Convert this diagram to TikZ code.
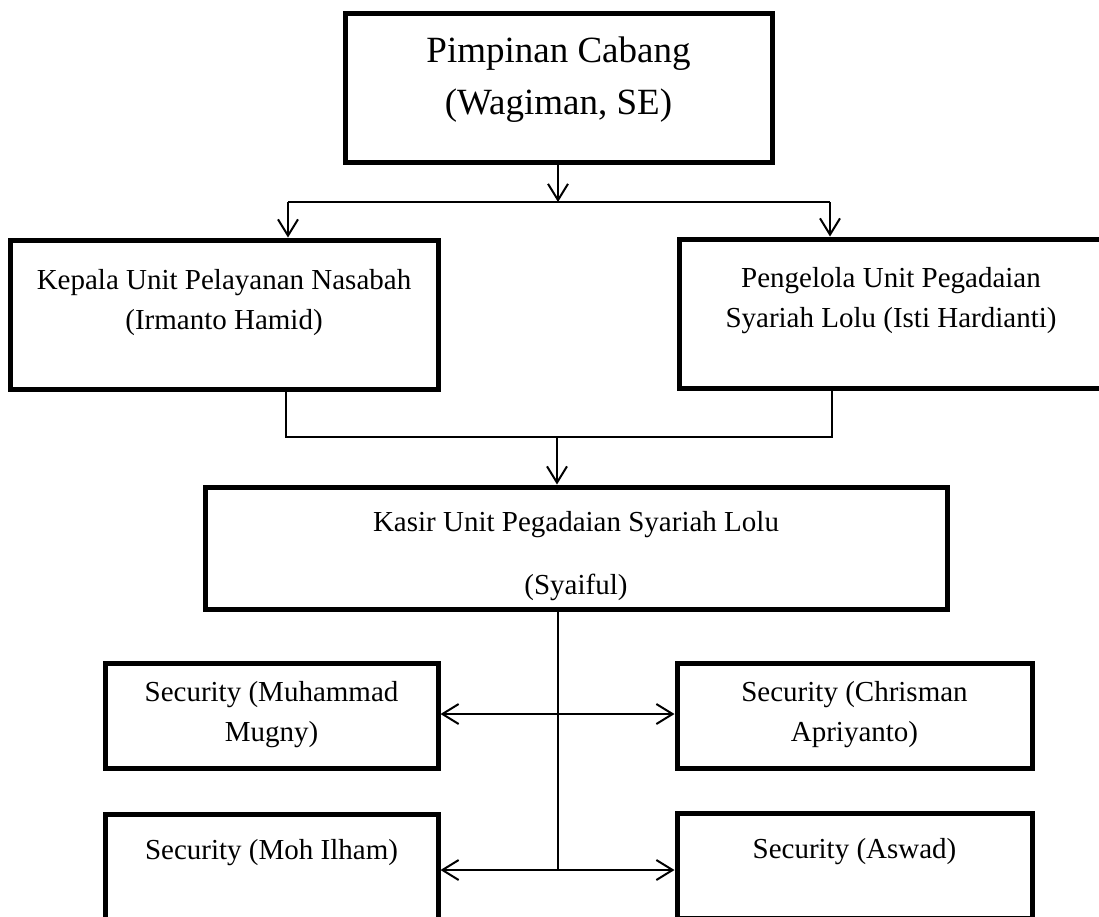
\documentclass[tikz,border=0pt]{standalone}
\usepackage{fontspec}
\setmainfont{Liberation Serif}
\usetikzlibrary{arrows.meta}
\newcommand{\px}{0.4pt}

\begin{document}
\begin{tikzpicture}[>={Straight Barb[length=6.5pt,width=8pt]}, line width=0.8pt, x=0.4pt, y=-0.4pt]
\tikzset{
  box/.style={draw, line width=2pt, rectangle, inner sep=0pt},
  txt/.style={align=center, inner sep=0pt, font=\fontsize{11.6}{16}\selectfont},
}
\useasboundingbox (0,0) rectangle (1099,916);

% top
\node[box, minimum width=427*\px, minimum height=149*\px] (pimpinan) at (558.5,87.5) {};
\node[txt, font=\fontsize{14.8}{20.8}\selectfont] (pimpinan-t) at (558.5,80) {Pimpinan Cabang\\(Wagiman, SE)};

% second row
\node[box, minimum width=428*\px, minimum height=149*\px] (kepala) at (224,314.5) {};
\node[txt] (kepala-t) at (224,303) {Kepala Unit Pelayanan Nasabah\\(Irmanto Hamid)};
\node[box, minimum width=424*\px, minimum height=149*\px] (pengelola) at (891,313.5) {};
\node[txt] (pengelola-t) at (891,301) {Pengelola Unit Pegadaian\\Syariah Lolu (Isti Hardianti)};

% kasir
\node[box, minimum width=742*\px, minimum height=122*\px] (kasir) at (576,548) {};
\node[txt] (kasir-t) at (576,556.5) {Kasir Unit Pegadaian Syariah Lolu\\[9.2pt](Syaiful)};

% security
\node[box, minimum width=333*\px, minimum height=105*\px] (sec1) at (271.5,715.5) {};
\node[txt] (sec1-t) at (271.5,715) {Security (Muhammad\\Mugny)};
\node[box, minimum width=355*\px, minimum height=105*\px] (sec2) at (854.5,715.5) {};
\node[txt] (sec2-t) at (854.5,715) {Security (Chrisman\\Apriyanto)};
\node[box, minimum width=333*\px, minimum height=105*\px] (sec3) at (271.5,866.5) {};
\node[txt] (sec3-t) at (271.5,853) {Security (Moh Ilham)};
\node[box, minimum width=355*\px, minimum height=105*\px] (sec4) at (854.5,865.5) {};
\node[txt] (sec4-t) at (854.5,852) {Security (Aswad)};

% junctions
\coordinate (split) at (558,202);
\coordinate (sp-l) at (288,202);
\coordinate (sp-r) at (830,202);
\coordinate (mg-l) at (286,437);
\coordinate (mg-r) at (832,437);
\coordinate (merge) at (557,437);
\coordinate (row1) at (558,714);
\coordinate (row2) at (558,870);

% pimpinan -> second row
\draw[->] (pimpinan.south -| split) -- (split);
\draw (sp-l) -- (sp-r);
\draw[->] (sp-l) -- (sp-l |- kepala.north);
\draw[->] (sp-r) -- (sp-r |- pengelola.north);

% second row -> kasir
\draw (mg-l |- kepala.south) -- (mg-l) -- (mg-r) -- (mg-r |- pengelola.south);
\draw[->] (merge) -- (merge |- kasir.north);

% kasir -> security
\draw (row1 |- kasir.south) -- (row2);
\draw[<->] (sec1.east |- row1) -- (sec2.west |- row1);
\draw[<->] (sec3.east |- row2) -- (sec4.west |- row2);

\end{tikzpicture}
\end{document}
